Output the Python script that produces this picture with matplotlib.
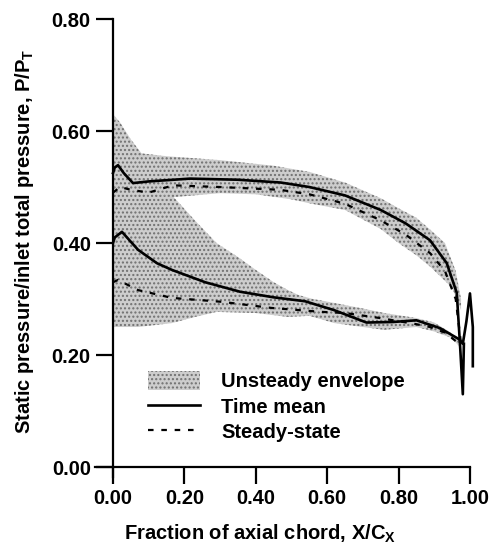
import numpy as np
import matplotlib
matplotlib.use('Agg')
import matplotlib.pyplot as plt
from matplotlib.patches import Patch
from matplotlib.lines import Line2D

plt.rcParams['font.family'] = 'Liberation Sans'
plt.rcParams['font.weight'] = 'bold'
plt.rcParams['mathtext.fontset'] = 'custom'
plt.rcParams['mathtext.bf'] = 'Liberation Sans:bold'
plt.rcParams['mathtext.rm'] = 'Liberation Sans:bold'
plt.rcParams['hatch.linewidth'] = 1.0

# unsteady envelope, pressure side band
env_up_top_x = [0, 0.02, 0.05, 0.08, 0.15, 0.3, 0.45, 0.55, 0.65, 0.75, 0.8, 0.85, 0.89, 0.93, 0.96, 0.975]
env_up_top_y = [0.63, 0.615, 0.585, 0.56, 0.555, 0.548, 0.538, 0.527, 0.508, 0.48, 0.462, 0.445, 0.423, 0.40, 0.35, 0.30]
env_up_bot_x = [0, 0.05, 0.1, 0.17, 0.3, 0.4, 0.5, 0.55, 0.65, 0.75, 0.8, 0.85, 0.89, 0.95, 0.975]
env_up_bot_y = [0.48, 0.48, 0.48, 0.482, 0.489, 0.487, 0.478, 0.471, 0.459, 0.425, 0.40, 0.378, 0.357, 0.32, 0.28]

# unsteady envelope, suction side band
env_lo_top_x = [0, 0.1, 0.17, 0.23, 0.29, 0.35, 0.40, 0.45, 0.49, 0.52, 0.56, 0.62, 0.7, 0.76, 0.85, 0.9, 0.944, 0.97]
env_lo_top_y = [0.50, 0.49, 0.482, 0.44, 0.40, 0.375, 0.352, 0.33, 0.316, 0.307, 0.30, 0.293, 0.283, 0.275, 0.266, 0.258, 0.241, 0.225]
env_lo_bot_x = [0, 0.07, 0.165, 0.23, 0.29, 0.4, 0.49, 0.55, 0.62, 0.7, 0.76, 0.85, 0.9, 0.95, 0.97]
env_lo_bot_y = [0.25, 0.25, 0.257, 0.268, 0.277, 0.275, 0.268, 0.27, 0.257, 0.25, 0.245, 0.25, 0.242, 0.23, 0.215]

# time mean
tm_up_x = [0, 0.005, 0.014, 0.03, 0.056, 0.1, 0.216, 0.35, 0.47, 0.55, 0.65, 0.75, 0.82, 0.888, 0.935, 0.963, 0.972, 0.98, 0.983]
tm_up_y = [0.525, 0.535, 0.539, 0.525, 0.507, 0.51, 0.515, 0.513, 0.508, 0.50, 0.485, 0.459, 0.435, 0.405, 0.364, 0.311, 0.22, 0.13, 0.22]
tm_lo_x = [0, 0.005, 0.025, 0.07, 0.123, 0.165, 0.258, 0.356, 0.45, 0.538, 0.62, 0.71, 0.785, 0.85, 0.916, 0.97, 0.98, 0.99, 1.0, 1.008, 1.008]
tm_lo_y = [0.40, 0.41, 0.42, 0.388, 0.364, 0.352, 0.33, 0.313, 0.303, 0.296, 0.28, 0.258, 0.259, 0.262, 0.248, 0.228, 0.22, 0.26, 0.31, 0.25, 0.18]

# steady state
ss_up_x = [0, 0.02, 0.05, 0.1, 0.168, 0.3, 0.468, 0.55, 0.65, 0.748, 0.82, 0.888, 0.93, 0.96, 0.975]
ss_up_y = [0.49, 0.50, 0.495, 0.49, 0.503, 0.50, 0.495, 0.487, 0.47, 0.441, 0.415, 0.382, 0.35, 0.30, 0.22]
ss_lo_x = [0, 0.014, 0.07, 0.165, 0.305, 0.445, 0.585, 0.65, 0.748, 0.85, 0.888, 0.93, 0.97]
ss_lo_y = [0.33, 0.334, 0.316, 0.302, 0.295, 0.284, 0.277, 0.275, 0.266, 0.255, 0.25, 0.24, 0.22]

xticks = [0.0, 0.2, 0.4, 0.6, 0.8, 1.0]
yticks = [0.0, 0.2, 0.4, 0.6, 0.8]

fs = 14.5
dash = (0, (2.5, 3.5))
fig = plt.figure(figsize=(5, 5.45), dpi=100)
ax = fig.add_axes([0.1903, 0.1246, 0.7639, 0.8405])

env_kw = dict(facecolor='#cdcdcd', edgecolor='#707070', hatch='....', linewidth=0)
ax.fill(np.r_[env_up_top_x, env_up_bot_x[::-1]], np.r_[env_up_top_y, env_up_bot_y[::-1]], **env_kw)
ax.fill(np.r_[env_lo_top_x, env_lo_bot_x[::-1]], np.r_[env_lo_top_y, env_lo_bot_y[::-1]], **env_kw)

ax.plot(ss_up_x, ss_up_y, color='black', lw=1.6, ls=dash)
ax.plot(ss_lo_x, ss_lo_y, color='black', lw=1.6, ls=dash)
ax.plot(tm_up_x, tm_up_y, color='black', lw=1.9, clip_on=False)
ax.plot(tm_lo_x, tm_lo_y, color='black', lw=1.9, clip_on=False)

ax.set_xlim(-0.05, 1.02)
ax.set_ylim(-0.018, 0.8)
for s in ['top', 'right']:
    ax.spines[s].set_visible(False)
ax.spines['left'].set_position(('data', 0))
ax.spines['bottom'].set_position(('data', 0))
ax.spines['bottom'].set_bounds(-0.05, 1.0)
ax.spines['left'].set_bounds(-0.018, 0.8)
ax.spines['left'].set_linewidth(1.6)
ax.spines['bottom'].set_linewidth(1.6)

ax.set_xticks(xticks)
ax.set_yticks(yticks)
ax.set_xticklabels(['%.2f' % v for v in xticks])
ax.set_yticklabels(['%.2f' % v for v in yticks])
ax.tick_params(axis='both', direction='out', length=12, width=1.6, labelsize=fs, pad=4)

fig.text(0.52, (545 - 534) / 545, 'Fraction of axial chord, X/C$_\\mathbf{X}$',
         ha='center', va='center', fontsize=fs, fontweight='bold')
fig.text(25 / 500, (545 - 241) / 545, 'Static pressure/inlet total pressure, P/P$_\\mathbf{T}$',
         ha='center', va='center', rotation=90, fontsize=fs, fontweight='bold')

handles = [Patch(**env_kw),
           Line2D([], [], color='black', lw=1.9),
           Line2D([], [], color='black', lw=1.6, ls=dash)]
labels = ['Unsteady envelope', 'Time mean', 'Steady-state']
ax.legend(handles, labels, loc='upper left', bbox_to_anchor=(0.098, 0.172),
          bbox_transform=ax.transData, frameon=False, fontsize=fs,
          borderpad=0, borderaxespad=0, handlelength=2.6, handletextpad=1.05,
          labelspacing=0.25, handleheight=1.1)

fig.savefig('out.png', dpi=100)
